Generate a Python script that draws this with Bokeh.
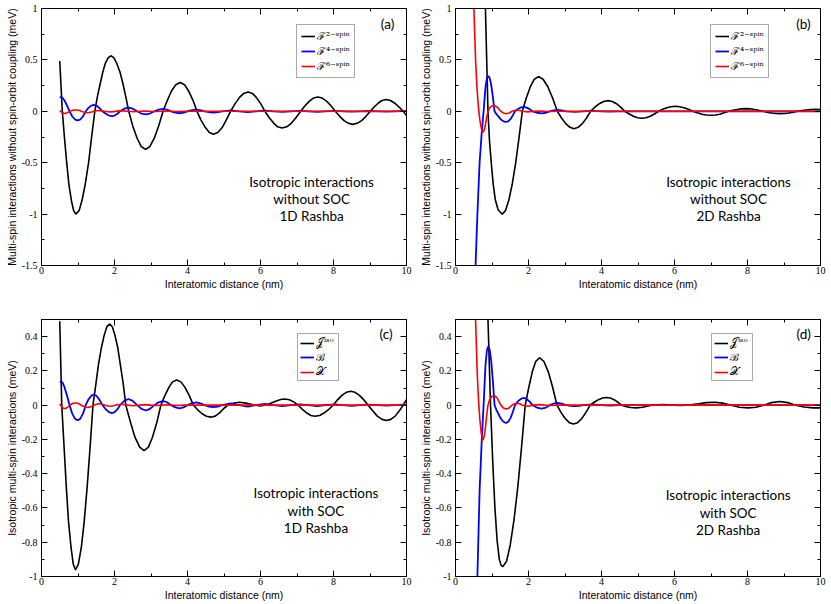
from bokeh.plotting import figure
from bokeh.models import (LinearAxis, SingleIntervalTicker, Range1d, Legend, LegendItem,
                          Label, CustomJSTickFormatter)
from bokeh.layouts import column, row
from bokeh.core.properties import value
from bokeh.embed import file_html
from bokeh.resources import INLINE

# ---------------- data ----------------
# panel (a): F^2-spin, 1D Rashba, without SOC
F2_1D = [(0.50, 0.49), (0.57, 0.0), (0.63, -0.26), (0.69, -0.5), (0.75, -0.71), (0.82, -0.87),
         (0.88, -0.966), (0.94, -1.0), (1.03, -0.966), (1.11, -0.866), (1.20, -0.707), (1.29, -0.5),
         (1.37, -0.259), (1.46, 0.0), (1.53, 0.14), (1.61, 0.27), (1.68, 0.382), (1.75, 0.468),
         (1.83, 0.522), (1.90, 0.54), (1.98, 0.522), (2.06, 0.468), (2.15, 0.382), (2.23, 0.27),
         (2.31, 0.14), (2.39, 0.0), (2.50, -0.142), (2.62, -0.262), (2.73, -0.342), (2.85, -0.37),
         (2.97, -0.342), (3.09, -0.262), (3.21, -0.142), (3.33, 0.0), (3.45, 0.107), (3.56, 0.198),
         (3.68, 0.259), (3.80, 0.28), (3.92, 0.259), (4.03, 0.198), (4.15, 0.107), (4.26, 0.0),
         (4.37, -0.086), (4.49, -0.158), (4.60, -0.207), (4.71, -0.224), (4.83, -0.207), (4.95, -0.158),
         (5.06, -0.086), (5.18, 0.0), (5.30, 0.072), (5.42, 0.133), (5.54, 0.174), (5.66, 0.188),
         (5.78, 0.174), (5.89, 0.133), (6.01, 0.072), (6.12, 0.0), (6.24, -0.062), (6.36, -0.115),
         (6.47, -0.151), (6.59, -0.163), (6.72, -0.151), (6.85, -0.115), (6.97, -0.062), (7.10, 0.0),
         (7.22, 0.054), (7.34, 0.099), (7.45, 0.129), (7.57, 0.14), (7.69, 0.129), (7.81, 0.099),
         (7.93, 0.054), (8.05, 0.0), (8.17, -0.049), (8.29, -0.09), (8.41, -0.117), (8.53, -0.127),
         (8.65, -0.117), (8.77, -0.09), (8.89, -0.049), (9.01, 0.0), (9.12, 0.044), (9.23, 0.081),
         (9.33, 0.105), (9.44, 0.114), (9.56, 0.105), (9.67, 0.081), (9.79, 0.044), (9.91, 0.0),
         (10.0, -0.04)]

# panels (a) and (c): 4-spin / B, 1D Rashba
F4_1D = [(0.50, 0.135), (0.54, 0.138), (0.58, 0.130), (0.63, 0.105), (0.70, 0.055), (0.77, 0.0),
         (0.84, -0.048), (0.92, -0.080), (0.99, -0.088), (1.06, -0.080), (1.14, -0.048), (1.21, 0.0),
         (1.28, 0.031), (1.36, 0.054), (1.43, 0.062), (1.51, 0.054), (1.59, 0.031), (1.67, 0.0),
         (1.76, -0.024), (1.85, -0.041), (1.93, -0.047), (2.00, -0.041), (2.08, -0.024), (2.15, 0.0),
         (2.27, 0.025), (2.38, 0.036), (2.50, 0.025), (2.62, 0.0), (2.74, -0.022), (2.86, -0.031),
         (2.97, -0.022), (3.09, 0.0), (3.21, 0.017), (3.33, 0.024), (3.44, 0.017), (3.55, 0.0),
         (3.67, -0.013), (3.78, -0.019), (3.89, -0.013), (4.00, 0.0), (4.12, 0.011), (4.24, 0.016),
         (4.35, 0.011), (4.47, 0.0), (4.59, -0.008), (4.71, -0.012), (4.83, -0.008), (4.95, 0.0),
         (5.18, 0.010), (5.42, 0.0), (5.65, -0.008), (5.88, 0.0), (6.12, 0.007), (6.36, 0.0),
         (6.60, -0.006), (6.83, 0.0), (7.07, 0.005), (7.31, 0.0), (7.55, -0.005), (7.78, 0.0),
         (8.02, 0.004), (8.26, 0.0), (8.50, -0.004), (8.73, 0.0), (8.97, 0.003), (9.21, 0.0),
         (9.45, -0.003), (9.68, 0.0), (9.92, 0.003), (10.0, 0.002)]

# panels (a) and (c): 6-spin / chiral, 1D Rashba
F6_1D = [(0.50, 0.007), (0.55, -0.008), (0.60, -0.018), (0.64, -0.021), (0.70, -0.015), (0.77, -0.002),
         (0.84, 0.009), (0.91, 0.013), (0.97, 0.013), (1.04, 0.007), (1.12, -0.004), (1.20, -0.011),
         (1.27, -0.014), (1.34, -0.010), (1.42, -0.002), (1.50, 0.005), (1.58, 0.008), (1.66, 0.005),
         (1.74, -0.001), (1.82, -0.005), (1.90, -0.006), (1.98, -0.003), (2.06, 0.002), (2.14, 0.004),
         (2.22, 0.004), (2.38, 0.0), (2.52, -0.003), (2.68, 0.0), (2.83, 0.003), (2.99, 0.0),
         (3.14, -0.002), (3.30, 0.0), (3.45, 0.002), (3.60, 0.0), (3.76, -0.002), (3.91, 0.0),
         (4.07, 0.001), (4.50, 0.0), (10.0, 0.0)]

# panel (b): F^2-spin, 2D Rashba, without SOC
F2_2D = [(0.74, 2.3), (0.78, 1.6), (0.82, 1.0), (0.855, 0.5), (0.89, 0.0), (0.93, -0.28), (0.98, -0.5),
         (1.03, -0.70), (1.09, -0.86), (1.17, -0.96), (1.28, -1.0), (1.37, -0.966), (1.46, -0.866),
         (1.555, -0.707), (1.65, -0.5), (1.74, -0.259), (1.83, 0.0), (1.94, 0.129), (2.05, 0.239),
         (2.16, 0.312), (2.27, 0.338), (2.40, 0.312), (2.53, 0.239), (2.66, 0.129), (2.79, 0.0),
         (2.905, -0.065), (3.02, -0.12), (3.135, -0.156), (3.25, -0.169), (3.36, -0.156), (3.475, -0.12),
         (3.59, -0.065), (3.70, 0.0), (3.82, 0.04), (3.94, 0.074), (4.06, 0.096), (4.18, 0.104),
         (4.295, 0.096), (4.41, 0.074), (4.525, 0.04), (4.64, 0.0), (4.76, -0.026), (4.875, -0.048),
         (4.99, -0.063), (5.11, -0.068), (5.22, -0.063), (5.335, -0.048), (5.45, -0.026), (5.56, 0.0),
         (5.675, 0.019), (5.79, 0.035), (5.905, 0.045), (6.02, 0.049), (6.14, 0.045), (6.26, 0.035),
         (6.38, 0.019), (6.50, 0.0), (6.625, -0.015), (6.75, -0.028), (6.875, -0.036), (7.00, -0.039),
         (7.12, -0.036), (7.24, -0.028), (7.36, -0.015), (7.48, 0.0), (7.60, 0.01), (7.72, 0.018),
         (7.83, 0.024), (7.95, 0.026), (8.07, 0.024), (8.19, 0.018), (8.30, 0.01), (8.42, 0.0),
         (8.54, -0.009), (8.66, -0.016), (8.78, -0.021), (8.90, -0.023), (9.02, -0.021), (9.14, -0.016),
         (9.25, -0.009), (9.37, 0.0), (9.49, 0.007), (9.61, 0.013), (9.73, 0.018), (9.85, 0.019),
         (10.0, 0.018)]

# panels (b) and (d): 4-spin / B, 2D Rashba
F4_2D = [(0.50, -2.6), (0.55, -1.5), (0.60, -1.0), (0.66, -0.5), (0.72, -0.2), (0.77, 0.0),
         (0.82, 0.23), (0.86, 0.32), (0.90, 0.344), (0.94, 0.32), (0.98, 0.254), (1.03, 0.124),
         (1.07, 0.0), (1.12, -0.027), (1.18, -0.052), (1.23, -0.074), (1.28, -0.09), (1.34, -0.100),
         (1.39, -0.104), (1.45, -0.095), (1.51, -0.074), (1.57, -0.04), (1.63, 0.0), (1.71, 0.022),
         (1.79, 0.037), (1.87, 0.042), (1.95, 0.036), (2.03, 0.021), (2.11, 0.0), (2.23, -0.014),
         (2.36, -0.020), (2.48, -0.014), (2.58, 0.0), (2.69, 0.009), (2.80, 0.013), (2.91, 0.009),
         (3.03, 0.0), (3.15, -0.004), (3.27, -0.006), (3.39, -0.004), (3.50, 0.0), (3.75, 0.004),
         (4.00, 0.0), (4.22, -0.002), (4.50, 0.0), (10.0, 0.0)]

# panels (b) and (d): 6-spin / chiral, 2D Rashba
F6_2D = [(0.50, 1.05), (0.53, 0.72), (0.55, 0.50), (0.59, 0.22), (0.62, 0.07), (0.64, 0.0),
         (0.67, -0.09), (0.71, -0.17), (0.75, -0.205), (0.79, -0.18), (0.83, -0.11), (0.86, -0.05),
         (0.89, 0.0), (0.94, 0.036), (1.00, 0.052), (1.07, 0.055), (1.14, 0.042), (1.19, 0.022),
         (1.24, 0.0), (1.31, -0.016), (1.39, -0.023), (1.47, -0.016), (1.55, 0.0), (1.62, 0.008),
         (1.69, 0.012), (1.76, 0.008), (1.83, 0.0), (1.98, -0.006), (2.13, 0.0), (2.28, 0.003),
         (2.44, 0.0), (2.60, -0.002), (2.80, 0.0), (10.0, 0.0)]

# panel (c): J^iso, 1D Rashba, with SOC
J_1D = [(0.50, 0.49), (0.555, 0.0), (0.62, -0.249), (0.68, -0.48), (0.74, -0.68), (0.81, -0.832),
        (0.87, -0.928), (0.93, -0.961), (1.01, -0.928), (1.09, -0.832), (1.17, -0.68), (1.25, -0.48),
        (1.33, -0.249), (1.41, 0.0), (1.49, 0.123), (1.56, 0.237), (1.64, 0.335), (1.72, 0.41),
        (1.79, 0.458), (1.87, 0.474), (1.94, 0.458), (2.01, 0.41), (2.09, 0.335), (2.16, 0.237),
        (2.24, 0.123), (2.31, 0.0), (2.44, -0.101), (2.56, -0.187), (2.69, -0.245), (2.81, -0.265),
        (2.93, -0.245), (3.04, -0.187), (3.16, -0.101), (3.27, 0.0), (3.38, 0.056), (3.49, 0.104),
        (3.59, 0.136), (3.70, 0.147), (3.82, 0.136), (3.93, 0.104), (4.05, 0.056), (4.16, 0.0),
        (4.28, -0.027), (4.40, -0.05), (4.52, -0.065), (4.64, -0.07), (4.76, -0.064), (4.88, -0.045),
        (5.00, -0.018), (5.12, 0.002), (5.28, 0.013), (5.43, 0.017), (5.60, 0.012), (5.80, 0.002),
        (6.00, -0.004), (6.20, 0.004), (6.40, 0.022), (6.55, 0.033), (6.67, 0.036), (6.79, 0.032),
        (6.91, 0.019), (7.03, 0.0), (7.15, -0.025), (7.27, -0.046), (7.38, -0.06), (7.49, -0.065),
        (7.62, -0.06), (7.74, -0.046), (7.87, -0.025), (7.99, 0.0), (8.11, 0.031), (8.23, 0.057),
        (8.35, 0.075), (8.47, 0.081), (8.59, 0.075), (8.71, 0.057), (8.83, 0.031), (8.95, 0.0),
        (9.08, -0.034), (9.20, -0.064), (9.33, -0.083), (9.45, -0.09), (9.57, -0.083), (9.69, -0.064),
        (9.80, -0.034), (9.91, 0.0), (10.0, 0.032)]

# panel (d): J^iso, 2D Rashba, with SOC
J_2D = [(0.80, 1.9), (0.85, 1.0), (0.89, 0.5), (0.96, 0.0), (1.02, -0.33), (1.08, -0.60), (1.14, -0.79),
        (1.20, -0.90), (1.25, -0.935), (1.30, -0.942), (1.40, -0.91), (1.50, -0.816), (1.605, -0.666),
        (1.71, -0.471), (1.81, -0.244), (1.91, 0.0), (2.01, 0.106), (2.105, 0.196), (2.20, 0.256),
        (2.30, 0.277), (2.42, 0.256), (2.54, 0.196), (2.66, 0.106), (2.78, 0.0), (2.89, -0.042),
        (3.005, -0.078), (3.12, -0.102), (3.23, -0.11), (3.345, -0.102), (3.46, -0.078), (3.575, -0.042),
        (3.69, 0.0), (3.80, 0.017), (3.915, 0.032), (4.03, 0.042), (4.14, 0.045), (4.24, 0.042),
        (4.345, 0.032), (4.45, 0.017), (4.55, 0.0), (4.66, -0.008), (4.80, -0.014), (4.96, -0.016),
        (5.12, -0.012), (5.28, -0.004), (5.45, 0.002), (5.70, 0.003), (5.95, 0.0), (6.20, -0.002),
        (6.45, 0.002), (6.65, 0.008), (6.88, 0.015), (7.10, 0.017), (7.32, 0.012), (7.55, 0.0),
        (7.78, -0.012), (8.01, -0.016), (8.23, -0.012), (8.45, 0.0), (8.66, 0.015), (8.88, 0.021),
        (9.10, 0.015), (9.32, 0.0), (9.55, -0.011), (9.80, -0.016), (10.0, -0.016)]

LABELS_NOSOC = ["\u2131\u00b2\u207b\u02e2\u1d56\u2071\u207f",
                "\u2131\u2074\u207b\u02e2\u1d56\u2071\u207f",
                "\u2131\u2076\u207b\u02e2\u1d56\u2071\u207f"]
LABELS_SOC = ["\U0001D4A5\u2071\u02e2\u1d52", "\u212c", "\U0001D4B3"]

YLABEL_TOP = "Multi-spin interactions without spin-orbit coupling (meV)"
YLABEL_BOT = "Isotropic multi-spin interactions (meV)"
XLABEL = "Interatomic distance (nm)"

NUM_FMT = "return (Math.round(tick*100)/100).toString();"
EMPTY_FMT = "return '';"


def xs(pairs):
    return [a for a, b in pairs]


def ys(pairs):
    return [b for a, b in pairs]


def panel(width, height, bl, br, bt, bb, yr, yint, ylabel, series, labels, leg_pos, leg_pad,
          letter, letter_xy, note_lines, note_x, note_ys):
    p = figure(width=width, height=height, x_range=Range1d(0, 10), y_range=Range1d(*yr),
               output_backend="svg", toolbar_location=None,
               min_border_left=bl, min_border_right=br, min_border_top=bt, min_border_bottom=bb,
               background_fill_color="white", border_fill_color="white")
    p.outline_line_color = "black"
    p.xgrid.visible = False
    p.ygrid.visible = False

    def style(ax, labelled, standoff=3):
        ax.major_tick_in = 6
        ax.major_tick_out = 0
        ax.minor_tick_in = 3
        ax.minor_tick_out = 0
        ax.axis_line_color = "black"
        ax.major_tick_line_color = "black"
        ax.minor_tick_line_color = "black"
        if labelled:
            ax.major_label_text_font = "Liberation Serif"
            ax.major_label_text_font_size = "10px"
            ax.major_label_text_color = "black"
            ax.major_label_standoff = standoff
            ax.axis_label_text_font = "Liberation Sans"
            ax.axis_label_text_font_size = "10.5px"
            ax.axis_label_text_font_style = "normal"
            ax.axis_label_text_color = "black"
            ax.axis_label_standoff = 1
            ax.formatter = CustomJSTickFormatter(code=NUM_FMT)
        else:
            ax.formatter = CustomJSTickFormatter(code=EMPTY_FMT)
            ax.major_label_text_font_size = "0px"
            ax.major_label_standoff = 0

    p.xaxis.ticker = SingleIntervalTicker(interval=2, num_minor_ticks=2)
    p.yaxis.ticker = SingleIntervalTicker(interval=yint, num_minor_ticks=2)
    p.xaxis.axis_label = XLABEL
    p.yaxis.axis_label = ylabel
    style(p.xaxis[0], True, 1)
    style(p.yaxis[0], True, 4)
    top = LinearAxis(ticker=SingleIntervalTicker(interval=2, num_minor_ticks=2))
    right = LinearAxis(ticker=SingleIntervalTicker(interval=yint, num_minor_ticks=2))
    style(top, False)
    style(right, False)
    p.add_layout(top, "above")
    p.add_layout(right, "right")

    items = []
    for (pairs, color, lw), lab in zip(series, labels):
        r = p.line(xs(pairs), ys(pairs), line_color=color, line_width=lw)
        items.append(LegendItem(label=value(lab), renderers=[r]))
    frame_h = height - bt - bb
    leg_h = 2 * leg_pad + 3 * 12 + 2 * 1
    legend = Legend(items=items, location=(leg_pos[0], frame_h - leg_pos[1] - leg_h),
                    label_text_font="DejaVu Serif", label_text_font_size="10.5px",
                    label_text_color="black",
                    glyph_width=14, glyph_height=12, label_height=12, label_standoff=2,
                    spacing=1, padding=leg_pad, margin=0,
                    border_line_color="#555555", border_line_width=1,
                    background_fill_color="white", background_fill_alpha=1.0)
    p.add_layout(legend)

    p.add_layout(Label(x=letter_xy[0], y=letter_xy[1], text=letter, text_align="center",
                       text_baseline="middle", text_font="Lato", text_font_size="13.5px",
                       text_color="black"))
    for line, yy in zip(note_lines, note_ys):
        p.add_layout(Label(x=note_x, y=yy, text=line, text_align="center", text_baseline="middle",
                           text_font="Lato", text_font_size="13.5px", text_color="black"))
    return p


pa = panel(415, 300, 41, 9, 8, 35, (-1.5, 1), 0.5, YLABEL_TOP,
           [(F2_1D, "black", 1.6), (F4_1D, "#0000ff", 1.8), (F6_1D, "#ff0000", 1.6)],
           LABELS_NOSOC, (255, 24), 4, "(a)", (9.48, 0.85),
           ["Isotropic interactions", "without SOC", "1D Rashba"], 7.4, [-0.683, -0.849, -1.014])
pb = panel(415, 300, 40, 10, 8, 35, (-1.5, 1), 0.5, YLABEL_TOP,
           [(F2_2D, "black", 1.6), (F4_2D, "#0000ff", 1.8), (F6_2D, "#ff0000", 1.6)],
           LABELS_NOSOC, (255, 24), 4, "(b)", (9.53, 0.85),
           ["Isotropic interactions", "without SOC", "2D Rashba"], 7.48, [-0.683, -0.849, -1.014])
pc = panel(415, 303, 41, 9, 19, 27, (-1, 0.5), 0.2, YLABEL_BOT,
           [(J_1D, "black", 1.6), (F4_1D, "#0000ff", 1.8), (F6_1D, "#ff0000", 1.6)],
           LABELS_SOC, (256, 20), 2, "(c)", (9.44, 0.416),
           ["Isotropic interactions", "with SOC", "1D Rashba"], 7.52, [-0.513, -0.618, -0.717])
pd = panel(415, 303, 40, 10, 19, 27, (-1, 0.5), 0.2, YLABEL_BOT,
           [(J_2D, "black", 1.6), (F4_2D, "#0000ff", 1.8), (F6_2D, "#ff0000", 1.6)],
           LABELS_SOC, (256, 20), 2, "(d)", (9.54, 0.416),
           ["Isotropic interactions", "with SOC", "2D Rashba"], 7.47, [-0.524, -0.63, -0.73])

layout = column(row(pa, pb), row(pc, pd))
open("out.html", "w").write(file_html(layout, INLINE))
